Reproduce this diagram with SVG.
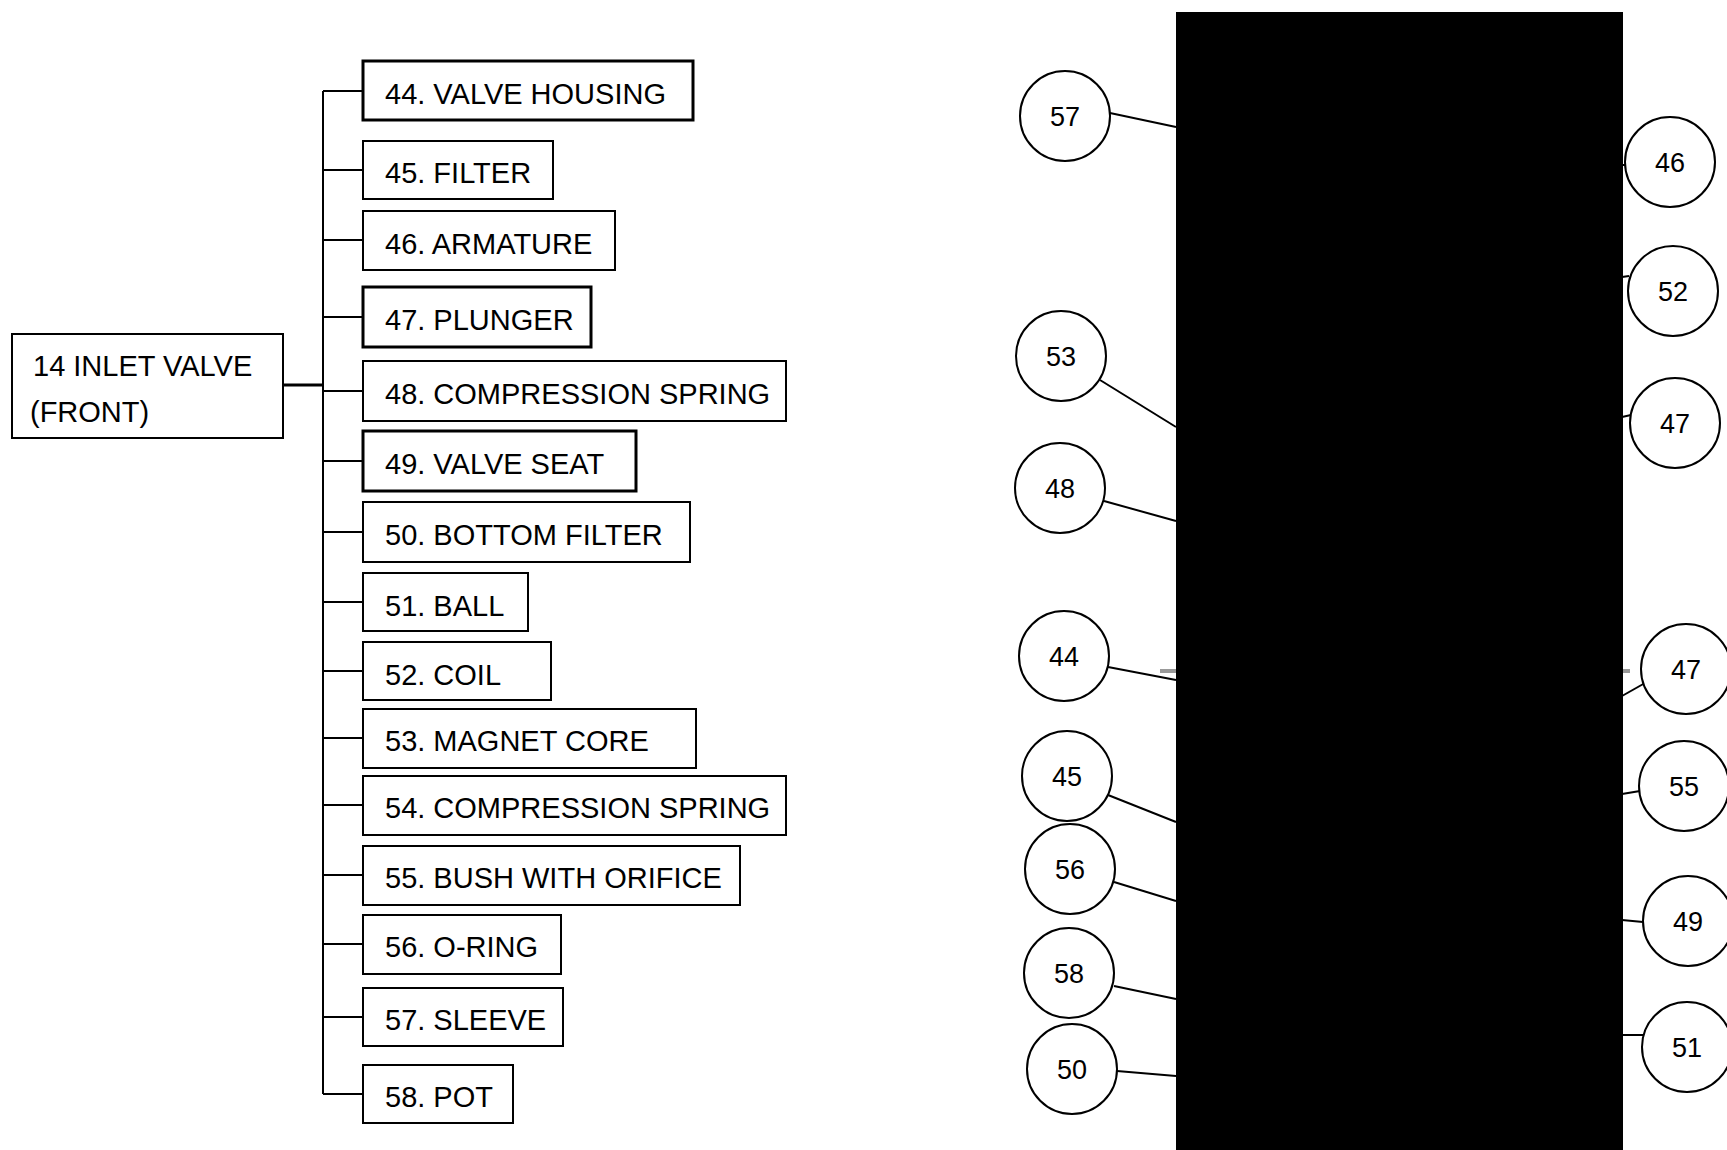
<svg xmlns="http://www.w3.org/2000/svg" width="1727" height="1150" viewBox="0 0 1727 1150">
<style>
.box{fill:#fff;stroke:#000;stroke-width:2}
.thick{stroke-width:3}
.lbl{font-family:"Liberation Sans",Arial,sans-serif;font-size:29px;fill:#000}
.num{font-family:"Liberation Sans",Arial,sans-serif;font-size:27px;fill:#000;text-anchor:middle}
.bub{fill:#fff;stroke:#000;stroke-width:2}
.ln{stroke:#000;stroke-width:2;fill:none}
.grey{stroke:#999;stroke-width:4;fill:none}
</style>
<rect width="1727" height="1150" fill="#fff"/>
<g id="connectors">
<line class="ln" x1="283" y1="385" x2="323" y2="385" style="stroke-width:3"/>
<line class="ln" x1="323" y1="91" x2="323" y2="1094"/>
<line class="ln" x1="323" y1="91" x2="363" y2="91"/>
<line class="ln" x1="323" y1="170" x2="363" y2="170"/>
<line class="ln" x1="323" y1="240" x2="363" y2="240"/>
<line class="ln" x1="323" y1="317" x2="363" y2="317"/>
<line class="ln" x1="323" y1="391" x2="363" y2="391"/>
<line class="ln" x1="323" y1="461" x2="363" y2="461"/>
<line class="ln" x1="323" y1="532" x2="363" y2="532"/>
<line class="ln" x1="323" y1="602" x2="363" y2="602"/>
<line class="ln" x1="323" y1="671" x2="363" y2="671"/>
<line class="ln" x1="323" y1="738" x2="363" y2="738"/>
<line class="ln" x1="323" y1="805" x2="363" y2="805"/>
<line class="ln" x1="323" y1="875" x2="363" y2="875"/>
<line class="ln" x1="323" y1="944" x2="363" y2="944"/>
<line class="ln" x1="323" y1="1017" x2="363" y2="1017"/>
<line class="ln" x1="323" y1="1094" x2="363" y2="1094"/>
<line class="ln" x1="1110" y1="113" x2="1176" y2="127"/>
<line class="ln" x1="1100" y1="380" x2="1176" y2="427"/>
<line class="ln" x1="1104" y1="501" x2="1176" y2="521"/>
<line class="ln" x1="1108" y1="667" x2="1176" y2="680"/>
<line class="ln" x1="1108" y1="795" x2="1176" y2="822"/>
<line class="ln" x1="1114" y1="882" x2="1176" y2="901"/>
<line class="ln" x1="1114" y1="986" x2="1176" y2="999"/>
<line class="ln" x1="1117" y1="1071" x2="1176" y2="1076"/>
<line class="ln" x1="1622" y1="165" x2="1626" y2="165"/>
<line class="ln" x1="1622" y1="277" x2="1629" y2="276"/>
<line class="ln" x1="1622" y1="417" x2="1631" y2="415"/>
<line class="ln" x1="1622" y1="696" x2="1645" y2="683"/>
<line class="ln" x1="1622" y1="794" x2="1640" y2="791"/>
<line class="ln" x1="1622" y1="920" x2="1643" y2="922"/>
<line class="ln" x1="1622" y1="1035" x2="1643" y2="1035"/>
<line class="grey" x1="1160" y1="671" x2="1176" y2="671"/>
<line class="grey" x1="1622" y1="671" x2="1630" y2="671"/>
</g>
<g id="root">
<rect class="box" x="12" y="334" width="271" height="104"/>
<text class="lbl" x="33" y="376">14 INLET VALVE</text>
<text class="lbl" x="30" y="422">(FRONT)</text>
</g>
<g id="n44"><rect class="box thick" x="363" y="61" width="330" height="59"/><text class="lbl" x="385" y="104">44. VALVE HOUSING</text></g>
<g id="n45"><rect class="box" x="363" y="141" width="190" height="58"/><text class="lbl" x="385" y="183">45. FILTER</text></g>
<g id="n46"><rect class="box" x="363" y="211" width="252" height="59"/><text class="lbl" x="385" y="254">46. ARMATURE</text></g>
<g id="n47"><rect class="box thick" x="363" y="287" width="228" height="60"/><text class="lbl" x="385" y="330">47. PLUNGER</text></g>
<g id="n48"><rect class="box" x="363" y="361" width="423" height="60"/><text class="lbl" x="385" y="404">48. COMPRESSION SPRING</text></g>
<g id="n49"><rect class="box thick" x="363" y="431" width="273" height="60"/><text class="lbl" x="385" y="474">49. VALVE SEAT</text></g>
<g id="n50"><rect class="box" x="363" y="502" width="327" height="60"/><text class="lbl" x="385" y="545">50. BOTTOM FILTER</text></g>
<g id="n51"><rect class="box" x="363" y="573" width="165" height="58"/><text class="lbl" x="385" y="616">51. BALL</text></g>
<g id="n52"><rect class="box" x="363" y="642" width="188" height="58"/><text class="lbl" x="385" y="685">52. COIL</text></g>
<g id="n53"><rect class="box" x="363" y="709" width="333" height="59"/><text class="lbl" x="385" y="751">53. MAGNET CORE</text></g>
<g id="n54"><rect class="box" x="363" y="776" width="423" height="59"/><text class="lbl" x="385" y="818">54. COMPRESSION SPRING</text></g>
<g id="n55"><rect class="box" x="363" y="846" width="377" height="59"/><text class="lbl" x="385" y="888">55. BUSH WITH ORIFICE</text></g>
<g id="n56"><rect class="box" x="363" y="915" width="198" height="59"/><text class="lbl" x="385" y="957">56. O-RING</text></g>
<g id="n57"><rect class="box" x="363" y="988" width="200" height="58"/><text class="lbl" x="385" y="1030">57. SLEEVE</text></g>
<g id="n58"><rect class="box" x="363" y="1065" width="150" height="58"/><text class="lbl" x="385" y="1107">58. POT</text></g>
<g id="photo"><rect x="1176" y="12" width="447" height="1138" fill="#000"/></g>
<g id="b57"><circle class="bub" cx="1065" cy="116" r="45"/><text class="num" x="1065" y="126">57</text></g>
<g id="b53"><circle class="bub" cx="1061" cy="356" r="45"/><text class="num" x="1061" y="366">53</text></g>
<g id="b48"><circle class="bub" cx="1060" cy="488" r="45"/><text class="num" x="1060" y="498">48</text></g>
<g id="b44"><circle class="bub" cx="1064" cy="656" r="45"/><text class="num" x="1064" y="666">44</text></g>
<g id="b45"><circle class="bub" cx="1067" cy="776" r="45"/><text class="num" x="1067" y="786">45</text></g>
<g id="b56"><circle class="bub" cx="1070" cy="869" r="45"/><text class="num" x="1070" y="879">56</text></g>
<g id="b58"><circle class="bub" cx="1069" cy="973" r="45"/><text class="num" x="1069" y="983">58</text></g>
<g id="b50"><circle class="bub" cx="1072" cy="1069" r="45"/><text class="num" x="1072" y="1079">50</text></g>
<g id="b46"><circle class="bub" cx="1670" cy="162" r="45"/><text class="num" x="1670" y="172">46</text></g>
<g id="b52"><circle class="bub" cx="1673" cy="291" r="45"/><text class="num" x="1673" y="301">52</text></g>
<g id="b47a"><circle class="bub" cx="1675" cy="423" r="45"/><text class="num" x="1675" y="433">47</text></g>
<g id="b47b"><circle class="bub" cx="1686" cy="669" r="45"/><text class="num" x="1686" y="679">47</text></g>
<g id="b55"><circle class="bub" cx="1684" cy="786" r="45"/><text class="num" x="1684" y="796">55</text></g>
<g id="b49"><circle class="bub" cx="1688" cy="921" r="45"/><text class="num" x="1688" y="931">49</text></g>
<g id="b51"><circle class="bub" cx="1687" cy="1047" r="45"/><text class="num" x="1687" y="1057">51</text></g>
</svg>
